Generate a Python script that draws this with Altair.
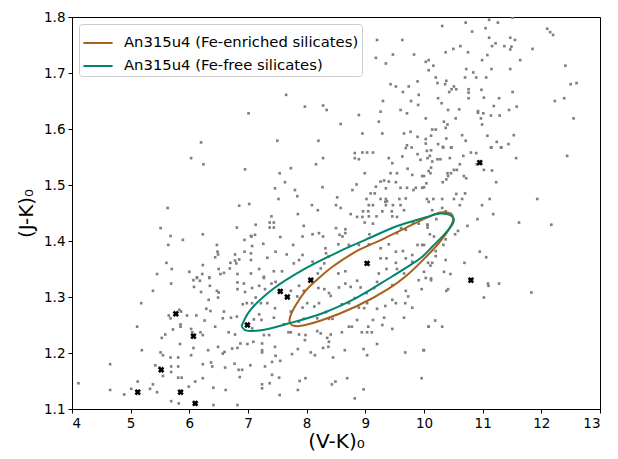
import altair as alt
import pandas as pd

# ---- gray field stars: [V-K, J-K] ----
field_top_mid = [
    [7.01,1.628],[6.20,1.576],[9.20,1.759],[9.63,1.759],[9.18,1.727],[9.47,1.733],[9.35,1.717],
    [9.83,1.733],[10.03,1.720],[7.65,1.661],[7.97,1.640],[8.28,1.642],[8.34,1.634],[8.58,1.609],
    [8.89,1.625],[9.23,1.613],[9.26,1.631],[9.30,1.650],[9.43,1.680],[9.52,1.676],[9.64,1.666],
    [9.74,1.676],[9.89,1.685],[9.91,1.661],[9.78,1.650],[9.90,1.643],[9.60,1.634],[9.71,1.628],
    [8.95,1.592],[9.29,1.592],[9.66,1.592],[9.77,1.595],[9.89,1.586],[9.71,1.571],[10.03,1.574],
    [7.50,1.579],[8.20,1.579],
]
field_top_right = [
    [10.31,1.784],[10.71,1.790],[11.11,1.795],[11.26,1.790],[11.51,1.799],[10.82,1.774],[11.05,1.780],
    [12.10,1.779],[12.15,1.773],[12.20,1.768],[11.11,1.763],[11.47,1.763],[11.55,1.759],[11.22,1.753],
    [11.16,1.748],[11.37,1.748],[11.49,1.747],[11.47,1.742],[10.62,1.748],[10.50,1.743],[10.37,1.737],
    [10.75,1.737],[11.85,1.743],[11.08,1.732],[10.99,1.723],[11.64,1.723],[10.08,1.723],[10.16,1.713],
    [10.08,1.705],[12.41,1.713],[10.72,1.707],[10.84,1.701],[11.15,1.707],[11.47,1.707],[10.20,1.692],
    [10.70,1.692],[10.89,1.692],[11.06,1.692],[10.23,1.682],[10.38,1.686],[10.36,1.680],[10.51,1.676],
    [10.47,1.671],[10.55,1.671],[10.43,1.666],[10.76,1.671],[10.76,1.665],[10.98,1.670],[11.51,1.666],
    [12.50,1.680],[12.60,1.682],[12.39,1.655],[12.23,1.650],[10.24,1.655],[10.30,1.646],[10.76,1.655],
    [11.02,1.656],[11.28,1.655],[11.19,1.641],[11.58,1.640],[11.45,1.634],[10.41,1.634],[10.60,1.635],
    [10.92,1.632],[10.92,1.629],[11.01,1.628],[11.14,1.624],[11.29,1.624],[12.55,1.619],[10.03,1.619],
    [10.54,1.619],[10.97,1.619],[10.34,1.613],[10.40,1.608],[10.37,1.602],[10.99,1.608],[10.14,1.599],
    [10.20,1.599],[10.65,1.589],[11.08,1.588],[11.53,1.589],[10.12,1.588],[10.03,1.582],[10.38,1.583],
    [10.71,1.579],[11.24,1.577],[10.24,1.573],[10.32,1.568],[10.47,1.567],[11.44,1.573],[11.14,1.567],
    [11.32,1.567],
]
field_mid_left = [
    [6.03,1.548],[6.24,1.537],[6.95,1.528],[5.63,1.459],[6.85,1.463],[7.02,1.466],[5.51,1.423],
    [5.68,1.409],[6.23,1.412],[6.81,1.424],[7.05,1.409],[5.64,1.393],[5.89,1.402],[6.47,1.393],
    [6.94,1.402],[7.07,1.391],[6.48,1.381],[6.49,1.376],[6.44,1.371],[6.78,1.376],[6.94,1.381],
    [5.61,1.361],[5.70,1.350],[6.23,1.357],[6.70,1.361],[6.78,1.365],[6.80,1.360],[6.85,1.367],
    [6.50,1.350],[6.69,1.351],[5.45,1.341],[6.00,1.345],[6.22,1.341],[6.53,1.341],[6.59,1.343],
    [6.82,1.341],[7.05,1.342],[6.13,1.335],[6.34,1.335],
]
field_center = [
    [8.82,1.557],[8.95,1.558],[9.03,1.558],[9.13,1.558],[8.82,1.548],[8.89,1.546],[8.28,1.548],
    [8.16,1.537],[7.73,1.530],[7.54,1.521],[7.63,1.505],[7.46,1.494],[7.80,1.491],[7.84,1.480],
    [7.52,1.475],[8.27,1.496],[8.99,1.521],[9.40,1.548],[9.46,1.539],[9.43,1.521],[9.54,1.521],
    [9.63,1.551],[9.69,1.566],[9.79,1.567],[9.89,1.555],[9.94,1.545],[9.72,1.529],[9.80,1.518],
    [9.97,1.516],[10.06,1.548],[9.26,1.506],[9.32,1.508],[9.18,1.497],[9.35,1.494],[9.40,1.506],
    [9.52,1.505],[9.60,1.495],[9.71,1.495],[9.86,1.495],[9.97,1.495],[10.04,1.503],[8.78,1.491],
    [8.85,1.501],[9.09,1.485],[9.16,1.485],[9.02,1.475],[9.26,1.475],[9.35,1.475],[9.37,1.471],
    [9.58,1.475],[9.69,1.476],[9.82,1.491],[8.52,1.478],[8.09,1.464],[8.50,1.464],[8.58,1.459],
    [9.06,1.464],[9.13,1.464],[9.35,1.464],[9.47,1.464],[9.60,1.464],[9.34,1.470],[8.19,1.455],
    [8.75,1.448],[8.86,1.443],[8.96,1.453],[9.05,1.453],[8.95,1.443],[9.06,1.444],[9.19,1.444],
    [9.29,1.453],[9.45,1.453],[9.46,1.444],[9.54,1.443],[9.66,1.455],[7.85,1.448],[7.40,1.444],
    [7.37,1.433],[7.44,1.433],[7.37,1.424],[7.44,1.424],[7.13,1.429],[7.12,1.411],[7.06,1.408],
    [7.95,1.427],[8.50,1.423],[8.66,1.421],[8.99,1.433],[9.13,1.431],[7.55,1.407],[7.93,1.408],
    [8.10,1.412],[8.21,1.414],[8.28,1.408],[8.56,1.411],[8.61,1.408],[8.66,1.414],[9.07,1.412],
    [9.54,1.414],[9.61,1.423],[9.69,1.420],[9.81,1.433],[9.91,1.431],[10.06,1.429],[7.26,1.395],
    [7.05,1.378],[7.05,1.366],[7.47,1.381],[7.33,1.370],[7.66,1.376],[7.77,1.393],[7.93,1.375],
    [7.78,1.360],[7.87,1.366],[8.10,1.363],[8.32,1.387],[8.33,1.378],[8.37,1.372],[8.54,1.394],
    [8.72,1.393],[8.89,1.393],[9.06,1.394],[9.26,1.387],[9.40,1.394],[9.52,1.381],[9.64,1.382],
    [9.89,1.393],[9.97,1.393],[9.26,1.369],[9.36,1.369],[9.52,1.361],[9.69,1.369],[9.80,1.375],
    [9.80,1.363],[9.36,1.350],[9.54,1.350],[9.66,1.342],[7.19,1.350],[7.44,1.346],[7.58,1.346],
    [7.27,1.336],[8.30,1.360],[8.24,1.351],[8.19,1.342],[8.54,1.342],[8.66,1.346],[9.23,1.342],
    [10.00,1.345],
]
field_mid_right = [
    [10.05,1.561],[10.12,1.562],[10.33,1.567],[10.46,1.567],[10.10,1.552],[10.23,1.546],[10.28,1.546],
    [10.44,1.548],[10.14,1.542],[10.67,1.552],[10.80,1.558],[10.89,1.557],[11.15,1.567],[11.31,1.567],
    [11.57,1.548],[12.44,1.552],[10.90,1.537],[10.61,1.537],[10.12,1.531],[10.08,1.525],[10.11,1.521],
    [10.00,1.516],[10.40,1.521],[10.46,1.521],[10.51,1.527],[10.56,1.527],[10.41,1.516],[10.38,1.510],
    [10.32,1.505],[10.68,1.516],[10.72,1.512],[11.02,1.527],[11.16,1.526],[11.23,1.505],[10.00,1.496],
    [10.55,1.484],[10.70,1.485],[10.05,1.475],[10.08,1.470],[10.16,1.475],[10.31,1.475],[10.51,1.475],
    [10.65,1.475],[10.61,1.464],[10.99,1.464],[11.12,1.475],[11.93,1.475],[10.14,1.455],[10.31,1.459],
    [10.37,1.453],[10.21,1.439],[11.18,1.448],[10.91,1.439],[11.62,1.433],[10.74,1.427],[12.17,1.429],
    [10.06,1.429],[10.06,1.424],[10.58,1.418],[10.53,1.412],[10.10,1.412],[10.17,1.408],[10.37,1.403],
    [10.33,1.393],[10.00,1.393],[10.20,1.382],[10.20,1.373],[10.95,1.381],[11.06,1.371],[10.37,1.366],
    [10.07,1.361],[10.14,1.361],[10.11,1.356],[10.69,1.361],[10.34,1.345],[10.45,1.341],[10.12,1.333],
]
field_low_left = [
    [5.69,1.324],[6.07,1.330],[6.13,1.334],[6.18,1.329],[6.34,1.334],[6.20,1.309],[6.08,1.318],
    [6.35,1.320],[6.47,1.311],[6.50,1.308],[6.82,1.314],[6.82,1.326],[6.93,1.324],[6.95,1.309],
    [5.38,1.311],[6.49,1.299],[6.33,1.295],[5.18,1.289],[6.29,1.279],[6.36,1.275],[6.59,1.274],
    [6.71,1.263],[6.81,1.265],[6.91,1.287],[6.98,1.289],[7.07,1.289],[6.57,1.262],[5.65,1.267],
    [5.68,1.262],[5.83,1.277],[5.86,1.274],[5.96,1.267],[5.85,1.251],[5.85,1.247],[6.12,1.267],
    [6.26,1.258],[6.44,1.247],[5.11,1.247],[5.72,1.242],[6.03,1.243],[6.05,1.237],[6.19,1.237],
    [6.23,1.232],[6.67,1.237],[6.78,1.233],[7.07,1.244],[5.59,1.233],[5.53,1.227],[5.84,1.216],
    [6.07,1.209],[5.19,1.205],[5.51,1.201],[5.55,1.196],[5.68,1.192],[5.81,1.192],[6.03,1.196],
    [6.32,1.205],[6.49,1.211],[6.57,1.199],[6.60,1.202],[6.73,1.208],[6.82,1.209],[6.87,1.217],
    [6.99,1.216],[5.42,1.178],[5.49,1.174],[5.69,1.176],[5.81,1.176],[5.69,1.166],[5.55,1.159],
    [5.81,1.156],[5.87,1.156],[6.23,1.180],[6.37,1.183],[6.39,1.176],[6.61,1.174],[6.77,1.181],
    [6.84,1.170],[6.90,1.170],[6.86,1.157],[6.23,1.155],[6.10,1.149],[5.99,1.140],[5.38,1.144],
    [5.33,1.136],[5.45,1.130],[5.12,1.149],[5.01,1.136],[4.65,1.180],[4.65,1.134],[4.11,1.146],
    [4.89,1.126],[6.41,1.138],[6.62,1.134],[5.69,1.114],[5.82,1.110],[6.41,1.107],[6.82,1.107],
]
field_low_mid = [
    [7.27,1.334],[7.40,1.324],[7.47,1.327],[7.07,1.316],[7.19,1.320],[7.29,1.314],[7.73,1.311],
    [7.87,1.320],[7.95,1.311],[7.84,1.301],[7.13,1.299],[7.22,1.289],[7.33,1.289],[7.46,1.280],
    [7.44,1.263],[7.19,1.269],[7.23,1.259],[7.10,1.260],[7.61,1.251],[7.69,1.237],[7.73,1.237],
    [7.87,1.233],[7.98,1.232],[7.97,1.223],[7.27,1.232],[7.36,1.232],[7.09,1.220],[7.24,1.217],
    [7.46,1.211],[7.24,1.205],[7.24,1.201],[7.47,1.195],[7.75,1.198],[7.85,1.207],[8.07,1.201],
    [8.14,1.196],[8.28,1.209],[8.38,1.220],[8.37,1.211],[8.24,1.235],[8.35,1.227],[8.41,1.233],
    [8.18,1.239],[8.60,1.237],[8.72,1.247],[8.77,1.247],[8.94,1.237],[9.03,1.237],[9.11,1.237],
    [9.05,1.247],[8.86,1.259],[9.13,1.259],[9.29,1.250],[9.20,1.216],[9.46,1.243],[9.32,1.263],
    [9.66,1.263],[9.68,1.201],[9.99,1.205],[9.03,1.196],[8.97,1.207],[8.65,1.205],[8.45,1.192],
    [7.04,1.178],[7.29,1.176],[7.41,1.184],[7.55,1.186],[7.41,1.161],[7.53,1.156],[7.24,1.144],
    [7.24,1.137],[7.37,1.146],[7.88,1.150],[7.98,1.155],[7.85,1.134],[7.54,1.125],[8.43,1.144],
    [8.49,1.149],[8.69,1.155],[8.97,1.135],[8.82,1.119],[9.96,1.155],[10.08,1.247],[8.20,1.316],
    [8.30,1.314],[8.38,1.307],[8.41,1.302],[8.55,1.317],[8.66,1.324],[8.75,1.318],[8.86,1.329],
    [8.92,1.317],[8.82,1.298],[8.72,1.289],[8.60,1.287],[8.89,1.281],[8.98,1.280],[9.03,1.289],
    [9.20,1.279],[9.34,1.284],[9.46,1.295],[9.52,1.289],[9.68,1.289],[9.73,1.301],[9.80,1.281],
    [9.96,1.314],[9.91,1.330],[9.69,1.311],[9.46,1.321],[9.15,1.316],[9.20,1.327],[9.02,1.307],
    [8.21,1.289],[8.33,1.273],[8.38,1.261],[8.44,1.261],[8.18,1.262],[8.13,1.283],[8.01,1.289],
    [7.93,1.281],[7.73,1.274],[7.87,1.256],[7.95,1.261],
]
field_low_right = [
    [10.03,1.334],[10.12,1.330],[10.38,1.311],[10.41,1.314],[11.09,1.324],[11.10,1.320],[11.28,1.324],
    [11.02,1.299],[11.83,1.308],[10.19,1.258],[10.08,1.247],[10.31,1.247],[10.00,1.205],
]

# ---- black crosses ----
cross_x = [10.95, 9.03, 8.07, 7.55, 7.67, 6.99, 10.80, 5.77, 6.07, 5.52, 5.12, 5.85, 6.10]
cross_y = [1.54, 1.36, 1.33, 1.31, 1.30, 1.25, 1.33, 1.27, 1.23, 1.17, 1.13, 1.13, 1.11]

# ---- model loops ----
series_names = ["An315u4 (Fe-enriched silicates)", "An315u4 (Fe-free silicates)"]
series_colors = ["#a6611a", "#018571"]

fe_rich_x = [7.76, 7.87, 8.27, 8.84, 9.40, 9.70, 10.00, 10.25, 10.42, 10.50, 10.46, 10.28, 10.08,
             9.70, 9.29, 8.89, 8.44, 8.20, 7.98, 7.80, 7.72, 7.71, 7.76]
fe_rich_y = [1.249, 1.248, 1.259, 1.283, 1.315, 1.338, 1.368, 1.396, 1.420, 1.440, 1.449, 1.451, 1.443,
             1.424, 1.403, 1.384, 1.354, 1.333, 1.311, 1.283, 1.265, 1.255, 1.249]
fe_free_x = [6.89, 7.02, 7.41, 7.98, 8.55, 9.00, 9.52, 9.86, 10.08, 10.28, 10.45, 10.51, 10.48,
             10.34, 10.17, 9.97, 9.69, 9.40, 8.84, 8.27, 7.70, 7.19, 6.95, 6.89]
fe_free_y = [1.248, 1.274, 1.313, 1.351, 1.381, 1.402, 1.426, 1.437, 1.444, 1.449, 1.446, 1.438, 1.429,
             1.411, 1.393, 1.372, 1.352, 1.333, 1.298, 1.271, 1.253, 1.240, 1.241, 1.248]

field = (field_top_mid + field_top_right + field_mid_left + field_center + field_mid_right
         + field_low_left + field_low_mid + field_low_right)
df_field = pd.DataFrame(field, columns=["vk", "jk"])
df_cross = pd.DataFrame({"vk": cross_x, "jk": cross_y})
rows = []
for name, xs, ys in [(series_names[0], fe_rich_x, fe_rich_y), (series_names[1], fe_free_x, fe_free_y)]:
    for i, (a, b) in enumerate(zip(xs, ys)):
        rows.append({"vk": a, "jk": b, "series": name, "idx": i})
df_lines = pd.DataFrame(rows)

xscale = alt.Scale(domain=[4, 13], nice=False, zero=False)
yscale = alt.Scale(domain=[1.1, 1.8], nice=False, zero=False)
xaxis = alt.Axis(title="(V-K)₀", values=list(range(4, 14)), format="d", grid=False)
yaxis = alt.Axis(title="(J-K)₀", values=[1.1, 1.2, 1.3, 1.4, 1.5, 1.6, 1.7, 1.8], format=".1f", grid=False)

pts = alt.Chart(df_field).mark_square(size=7, color="#7f7f7f", opacity=1, clip=True).encode(
    x=alt.X("vk:Q", scale=xscale, axis=xaxis),
    y=alt.Y("jk:Q", scale=yscale, axis=yaxis),
)
crosses = alt.Chart(df_cross).mark_point(shape="cross", angle=45, filled=True, size=42,
                                          color="black", opacity=1, clip=True).encode(
    x=alt.X("vk:Q", scale=xscale), y=alt.Y("jk:Q", scale=yscale))
lines = alt.Chart(df_lines).mark_line(strokeWidth=2, clip=True, interpolate="catmull-rom").encode(
    x=alt.X("vk:Q", scale=xscale),
    y=alt.Y("jk:Q", scale=yscale),
    order="idx:Q",
    color=alt.Color("series:N", scale=alt.Scale(domain=series_names, range=series_colors),
                    legend=alt.Legend(title=None, orient="top-left", offset=7, symbolType="stroke",
                                      symbolSize=850, symbolStrokeWidth=2, labelFontSize=14.8,
                                      labelFont="DejaVu Sans", labelColor="black", labelOffset=10,
                                      rowPadding=0, padding=3, cornerRadius=3, strokeColor="#cccccc",
                                      fillColor="rgba(255,255,255,0.85)", labelLimit=400)),
)

chart = alt.layer(pts, crosses, lines).properties(
    width=528, height=392, padding={"left": 8, "top": 2, "right": 5, "bottom": 0}
).configure_view(stroke="black", strokeWidth=1).configure_axis(
    domainColor="black", tickColor="black", labelColor="black", titleColor="black",
    labelFont="DejaVu Sans", titleFont="DejaVu Sans", labelFontSize=13.5, titleFontSize=20,
    titleFontWeight="normal", tickSize=4, labelPadding=3
).configure_axisX(titlePadding=2).configure_axisY(titlePadding=7)

chart.save("out.html", embed_options={"renderer": "svg", "actions": False})
